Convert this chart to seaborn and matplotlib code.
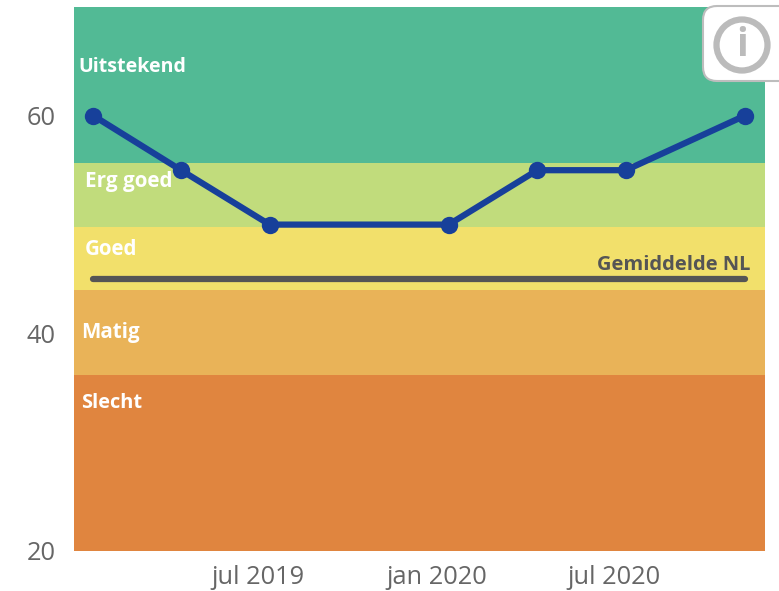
import matplotlib
matplotlib.use("Agg")
import matplotlib.pyplot as plt
from matplotlib.patches import FancyBboxPatch, Circle
import seaborn as sns
import pandas as pd

dates = ["2019-01-13", "2019-04-13", "2019-07-13", "2020-01-13", "2020-04-13", "2020-07-13", "2020-11-12"]
scores = [60, 55, 50, 50, 55, 55, 60]
avg_nl = [45, 45, 45, 45, 45, 45, 45]

band_names = ["Slecht", "Matig", "Goed", "Erg goed", "Uitstekend"]
band_edges = [20, 36.2, 44, 49.8, 55.65, 70]
band_colors = ["#E0853F", "#E9B358", "#F2E06B", "#C1DC7C", "#52BA95"]
band_label_y = [33.6, 40.1, 47.75, 53.95, 64.5]
band_label_x = ["2018-12-31", "2018-12-31", "2019-01-04", "2019-01-04", "2018-12-29"]
band_label_size = [14.4, 14.8, 14.8, 14.9, 14.1]

tick_dates = ["2019-07-01", "2020-01-01", "2020-07-01"]
tick_labels = ["jul 2019", "jan 2020", "jul 2020"]
y_ticks = [20, 40, 60]

sns.set_theme(style="white")
plt.rcParams["font.family"] = ["Open Sans", "DejaVu Sans"]

df = pd.DataFrame({"date": pd.to_datetime(dates), "score": scores, "avg": avg_nl})

fig = plt.figure(figsize=(7.79, 5.91), dpi=100)
ax = fig.add_axes([74 / 779, 1 - 551 / 591, (765 - 74) / 779, (551 - 7) / 591])

for i in range(len(band_names)):
    ax.axhspan(band_edges[i], band_edges[i + 1], color=band_colors[i], lw=0, zorder=0)
    ax.text(pd.Timestamp(band_label_x[i]), band_label_y[i], band_names[i], color="white",
            fontsize=band_label_size[i], fontweight="bold", va="center", ha="left", zorder=5)

sns.lineplot(data=df, x="date", y="avg", ax=ax, color="#555555", lw=4.5,
             solid_capstyle="round", zorder=3)
sns.lineplot(data=df, x="date", y="score", ax=ax, color="#17409A", lw=4.5, marker="o",
             markersize=12.5, markeredgewidth=0, zorder=4)

ax.text(pd.Timestamp("2020-11-18"), 46.3, "Gemiddelde NL", color="#555555", fontsize=14.5,
        fontweight="bold", ha="right", va="center", zorder=5)

ax.set_xlim(pd.Timestamp("2018-12-24"), pd.Timestamp("2020-12-03"))
ax.set_ylim(20, 70)
ax.set_xticks(pd.to_datetime(tick_dates))
ax.set_xticklabels(tick_labels)
ax.set_yticks(y_ticks)
ax.set_xlabel("")
ax.set_ylabel("")
ax.tick_params(axis="both", length=0, labelsize=18.3, labelcolor="#666666")
ax.tick_params(axis="x", pad=10)
ax.tick_params(axis="y", pad=13.4)
sns.despine(ax=ax, left=True, bottom=True)

# info knop rechtsboven
over = fig.add_axes([0, 0, 1, 1], zorder=10)
over.set_xlim(0, 779)
over.set_ylim(591, 0)
over.axis("off")
over.patch.set_alpha(0)
over.add_patch(FancyBboxPatch((703, 6), 90, 75, boxstyle="round,pad=0,rounding_size=14",
                              fc="white", ec="#BDBDBD", lw=1.5, clip_on=True))
over.add_patch(Circle((742, 45), 25.5, fc="white", ec="#BBBBBB", lw=4.5))
over.text(742, 46, "i", color="#BBBBBB", fontsize=28, fontweight="bold", ha="center", va="center")

fig.savefig("out.png", dpi=100, facecolor="white")
